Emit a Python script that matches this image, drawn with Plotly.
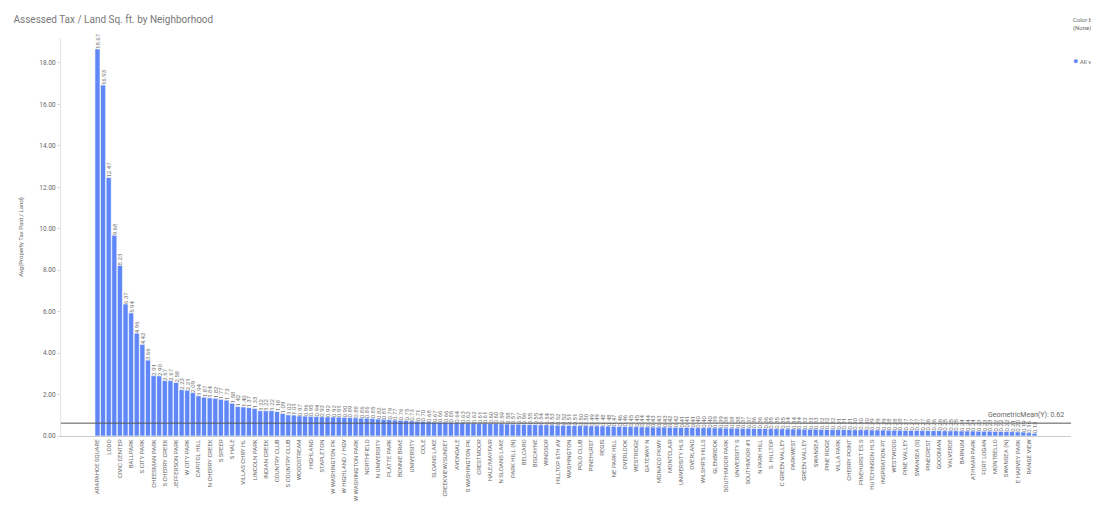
import plotly.graph_objects as go

labels = ["ARAPAHOE SQUARE", "LODO", "CIVIC CENTER", "BALLPARK", "S CITY PARK", "CHEESMAN PARK",
          "S CHERRY CREEK", "JEFFERSON PARK", "W CITY PARK", "CAPITOL HILL", "N CHERRY CREEK", "S SPEER",
          "S HALE", "VILLAS CHRY HL", "LINCOLN PARK", "INDIAN CREEK", "COUNTRY CLUB", "S COUNTRY CLUB",
          "WOODSTREAM", "HIGHLAND", "STAPLETON", "W WASHINGTON PK", "W HIGHLAND / HGV", "W WASHINGTON PARK",
          "NORTHFIELD", "N UNIVERSITY", "PLATTE PARK", "BONNIE BRAE", "UNIVERSITY", "COLE", "SLOANS LAKE",
          "CREEKVIEW/SUNSET", "AVONDALE", "S WASHINGTON PK", "CRESTMOOR", "HALE/MAYFAIR", "N SLOANS LAKE",
          "PARK HILL (N)", "BELCARO", "BISCAYNE", "WINDSOR", "HILLTOP 6TH AV", "WASHINGTON", "POLO CLUB",
          "PINEHURST", "REGIS", "NE PARK HILL", "OVERLOOK", "WESTRIDGE", "GATEWAY N", "MONACO PKWY",
          "MONTCLAIR", "UNIVERSITY HLS", "OVERLAND", "WILSHR'S HILLS", "GLENBROOK", "SOUTHMOOR PARK",
          "UNIVERSITY S", "SOUTHMOOR #1", "N PARK HILL", "S. HILLTOP", "C GREEN VALLEY", "PARKWEST",
          "GREEN VALLEY", "SWANSEA", "PINE RIDGE", "VILLA PARK", "CHERRY POINT", "PINEHURST ES S",
          "HUTCHINSON HLS", "INSPIRATION PT", "WESTWOOD", "PINE VALLEY", "SWANSEA (S)", "PINECREST",
          "GOODMAN", "VALVERDE", "BARNUM", "ATHMAR PARK", "FORT LOGAN", "MONTBELLO", "SWANSEA (N)",
          "E HARVEY PARK", "RANGE VIEW"]

values = [18.67, 16.93, 12.47, 9.68, 8.23, 6.37, 5.94, 4.96, 4.42, 3.66, 2.91, 2.90, 2.67, 2.67, 2.58,
          2.23, 2.21, 2.09, 1.94, 1.87, 1.84, 1.82, 1.77, 1.73, 1.58, 1.42, 1.40, 1.37, 1.33, 1.22, 1.22,
          1.22, 1.18, 1.09, 1.02, 1.01, 0.97, 0.96, 0.95, 0.94, 0.93, 0.92, 0.92,
          0.91, 0.90, 0.89, 0.88, 0.86, 0.86, 0.85, 0.82, 0.81, 0.79, 0.77, 0.76, 0.75, 0.73, 0.71, 0.70,
          0.68, 0.67, 0.66, 0.66, 0.65, 0.64, 0.63, 0.62, 0.62,
          0.61, 0.61, 0.60, 0.60, 0.59, 0.58, 0.57, 0.57, 0.56, 0.55,
          0.55, 0.54, 0.54, 0.53, 0.52, 0.52, 0.51, 0.51, 0.50, 0.50,
          0.49, 0.49, 0.48, 0.48, 0.47, 0.46, 0.46, 0.45, 0.45, 0.44,
          0.44, 0.43, 0.43, 0.43, 0.42, 0.42, 0.41, 0.41, 0.41, 0.40, 0.40, 0.40,
          0.39, 0.39, 0.38, 0.38, 0.38, 0.37, 0.37, 0.36, 0.36, 0.36, 0.35, 0.35, 0.35, 0.34, 0.34, 0.34,
          0.33, 0.33,
          0.33, 0.32, 0.32, 0.32, 0.31, 0.31, 0.31, 0.30, 0.30, 0.30, 0.29, 0.29, 0.29, 0.28, 0.28, 0.28,
          0.27, 0.27,
          0.27, 0.27, 0.26, 0.26, 0.26, 0.25, 0.25, 0.25, 0.24, 0.24, 0.24, 0.23, 0.23, 0.23, 0.22, 0.22,
          0.22, 0.21, 0.20, 0.19, 0.16, 0.13]

geo_mean = 0.62

x = list(range(len(values)))
tickvals = x[::2][:len(labels)]

fig = go.Figure(go.Bar(
    x=x, y=values,
    marker_color="#5f87f8",
    marker_line=dict(color="white", width=0.6),
    text=["%.2f" % v for v in values],
    textposition="outside",
    textangle=-90,
    constraintext="none",
    textfont=dict(size=6, color="#777777"),
    cliponaxis=False,
    width=0.9,
))

fig.add_shape(type="line", xref="paper", yref="y", x0=0, x1=1, y0=geo_mean, y1=geo_mean,
              line=dict(color="#555555", width=1))
fig.add_annotation(xref="paper", yref="y", x=0.995, y=geo_mean, yshift=8, xanchor="right",
                   text="GeometricMean(Y): %.2f" % geo_mean, showarrow=False,
                   font=dict(size=7, color="#666666"))

fig.add_annotation(xref="paper", yref="paper", x=1.0, xshift=0, y=1.06, xanchor="left", yanchor="top",
                   align="left", text="Color by:<br>(None)", showarrow=False,
                   font=dict(size=6, color="#666666"))
fig.add_annotation(xref="paper", yref="paper", x=1.0, xshift=0, y=0.96, xanchor="left",
                   text="<span style='color:#5f87f8;font-size:9px'>●</span> All va", showarrow=False,
                   font=dict(size=6, color="#666666"))

fig.update_layout(
    width=1099, height=505,
    margin=dict(l=50, r=36, t=30, b=75),
    plot_bgcolor="white", paper_bgcolor="white",
    font=dict(family="Roboto", color="#666666"),
    title=dict(text="Assessed Tax / Land Sq. ft. by Neighborhood", x=0.005, y=0.985,
               font=dict(size=10, color="#777777")),
    showlegend=False,
    bargap=0.1,
)
fig.update_xaxes(range=[-6.5, 173.5], tickmode="array", tickvals=tickvals, ticktext=labels,
                 tickangle=-90, tickfont=dict(size=6, color="#666666"), showgrid=False,
                 showline=True, linecolor="#cccccc", zeroline=False)
fig.update_yaxes(range=[0, 19.2], dtick=2, tickformat=".2f", tickfont=dict(size=6.5, color="#666666"),
                 showgrid=False, showline=True, linecolor="#e5e5e5", zeroline=False,
                 title=dict(text="Avg(Property Tax Paid / Land)", font=dict(size=6, color="#666666")),
                 ticks="outside", ticklen=3, tickcolor="#dddddd")

fig.write_html("out.html")
